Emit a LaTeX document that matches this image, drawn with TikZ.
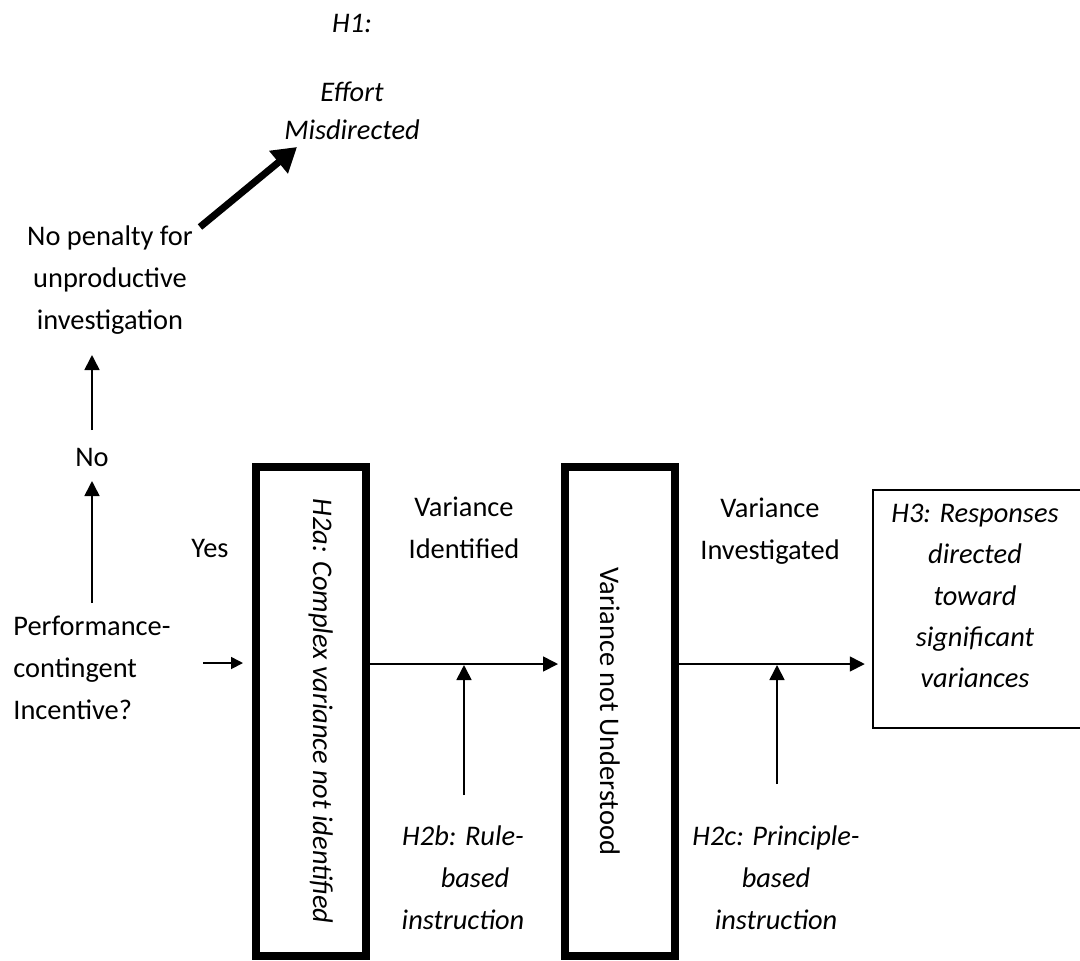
\documentclass[tikz,border=0pt]{standalone}
\usepackage{fontspec}
\setmainfont{Carlito}
\usetikzlibrary{arrows.meta}
\begin{document}
\begin{tikzpicture}[x=0.5pt,y=-0.5pt,
  txt/.style={font=\fontsize{14.2}{21}\selectfont, align=center, inner sep=0pt},
  itxt/.style={font=\fontsize{14.2}{21}\selectfont\itshape, align=center, inner sep=0pt},
  arr/.style={line width=0.85pt, -{Triangle[length=7.5pt,width=7.5pt]}},
  smallarr/.style={line width=0.85pt, -{Triangle[length=6pt,width=6pt]}},
  thickarr/.style={line width=3.5pt, -{Triangle[length=12pt,width=14pt]}},
  bigbox/.style={draw, line width=4pt, minimum width=55pt, minimum height=244.5pt, inner sep=0pt},
  outbox/.style={draw, line width=1.25pt, minimum width=105pt, minimum height=119pt, inner sep=0pt},
]
\useasboundingbox (0,0) rectangle (1080,960);

% boxes
\node[bigbox] (box1) at (311,711.5) {};
\node[bigbox] (box2) at (620,711.5) {};
\node[outbox] (box3) at (978,609) {};

% rotated box texts
\node[itxt, rotate=-90, anchor=base] (t1) at (313,711) {H2a: Complex variance not identified};
\node[txt, rotate=-90, anchor=base] (t2) at (600,711) {Variance not Understood};

% text nodes
\node[itxt, font=\fontsize{14.2}{19}\selectfont\itshape] (h1) at (352,77) {H1:\\[15.5pt]Effort\\Misdirected};
\node[txt] (pen) at (110,280) {No penalty for\\unproductive\\investigation};
\node[txt] (no) at (92,457) {No};
\node[txt] (yes) at (210,548) {Yes};
\node[txt, align=left, anchor=west] (perf) at (13,668) {Performance-\\contingent\\Incentive?};
\node[txt] (vi) at (464,528) {Variance\\Identified};
\node[txt] (vinv) at (770,531) {Variance\\Investigated};
\node[itxt] (h2b) at (463,878) {H2b: Rule-\\\hspace*{12pt}based\\instruction};
\node[itxt] (h2c) at (776,878) {H2c: Principle-\\based\\instruction};
\node[itxt, font=\fontsize{14.2}{20.6}\selectfont\itshape] (h3) at (975,596) {H3: Responses\\directed\\toward\\significant\\variances};

% coordinates for free arrow ends
\coordinate (mid) at (0,664);
\coordinate (thS) at (200,227);
\coordinate (thE) at (297,147);
\coordinate (noS) at (92,430);
\coordinate (noE) at (92,355);
\coordinate (pfS) at (92,603);
\coordinate (pfE) at (92,481);
\coordinate (ysS) at (203,663);
\coordinate (ysE) at (243,663);
\coordinate (bS) at (464,795);
\coordinate (bE) at (464,665);
\coordinate (cS) at (777,784);
\coordinate (cE) at (777,665);

% connectors
\draw[thickarr] (thS) -- (thE);
\draw[arr] (noS) -- (noE);
\draw[arr] (pfS) -- (pfE);
\draw[smallarr] (ysS) -- (ysE);
\draw[arr, shorten >=1.5pt] (box1.east |- mid) -- (box2.west |- mid);
\draw[arr, shorten >=3.5pt] (box2.east |- mid) -- (box3.west |- mid);
\draw[arr] (bS) -- (bE);
\draw[arr] (cS) -- (cE);
\end{tikzpicture}
\end{document}
